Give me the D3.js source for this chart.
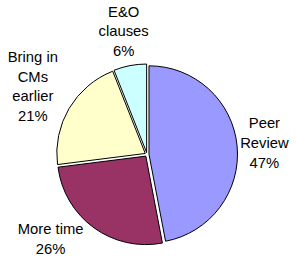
<!DOCTYPE html>
<html>
<head>
<meta charset="utf-8">
<script src="https://cdn.jsdelivr.net/npm/d3@7"></script>
<style>
  body { margin: 0; background: #fff; }
  svg { display: block; }
</style>
</head>
<body>
<div id="chart"></div>
<script>
// datos ------------------------------------------
const categories = ["Peer Review", "More time", "Bring in CMs earlier", "E&O clauses"];
const values = [47, 26, 21, 6];
const labelLines = [
  ["Peer", "Review"],
  ["More time"],
  ["Bring in", "CMs", "earlier"],
  ["E&O", "clauses"]
];
const colors = ["#9999FF", "#993366", "#FFFFCC", "#CCFFFF"];

// dimensiones
const width = 296, height = 260;
const cx = 147, cy = 154.5;
const radius = 88.5;
const explode = 2;
const labelGap = 91; // distancia del borde de la etiqueta
const fontSize = 14.8, lineH = 19.7;

const svg = d3.select("#chart")
  .append("svg")
  .attr("width", width)
  .attr("height", height);

svg.append("rect").attr("width", width).attr("height", height).attr("fill", "#fff");

const g = svg.append("g").attr("transform", `translate(${cx},${cy})`);

const total = d3.sum(values);
const pie = d3.pie().sort(null).value(d => d)(values);
const arc = d3.arc().innerRadius(0).outerRadius(radius);

// sectores separados
g.selectAll("path")
  .data(pie)
  .enter()
  .append("path")
  .attr("d", arc)
  .attr("transform", d => {
    const a = (d.startAngle + d.endAngle) / 2;
    return `translate(${Math.sin(a) * explode},${-Math.cos(a) * explode})`;
  })
  .attr("fill", (d, i) => colors[i])
  .attr("stroke", "#000")
  .attr("stroke-width", 1);

// etiquetas
pie.forEach((d, i) => {
  const lines = labelLines[i].concat([Math.round(values[i] / total * 100) + "%"]);
  const t = g.append("text")
    .attr("font-family", "'Liberation Sans', Arial, sans-serif")
    .attr("font-size", fontSize)
    .attr("fill", "#000")
    .attr("text-anchor", "middle");
  const spans = lines.map(l => t.append("tspan").text(l));
  const w = d3.max(spans, s => s.node().getComputedTextLength());
  const h = lines.length * lineH;

  const place = a => {
    const s = Math.sin(a), c = Math.cos(a);
    const dist = labelGap + Math.abs(s) * w / 2 + Math.abs(c) * h / 2;
    return { x: s * dist, y: -c * dist };
  };
  const fits = p =>
    cx + p.x - w / 2 >= 0 && cx + p.x + w / 2 <= width &&
    cy + p.y - h / 2 >= 0 && cy + p.y + h / 2 <= height;

  const mid = (d.startAngle + d.endAngle) / 2;
  let p = place(mid);
  for (let k = 1; k < 180 && !fits(p); k++) {
    const step = k * Math.PI / 360;
    const p1 = place(mid + step), p2 = place(mid - step);
    if (fits(p1)) { p = p1; break; }
    if (fits(p2)) { p = p2; break; }
  }

  spans.forEach((s, j) => {
    s.attr("x", p.x).attr("y", p.y - h / 2 + j * lineH + 14.3);
  });
});
</script>
</body>
</html>
